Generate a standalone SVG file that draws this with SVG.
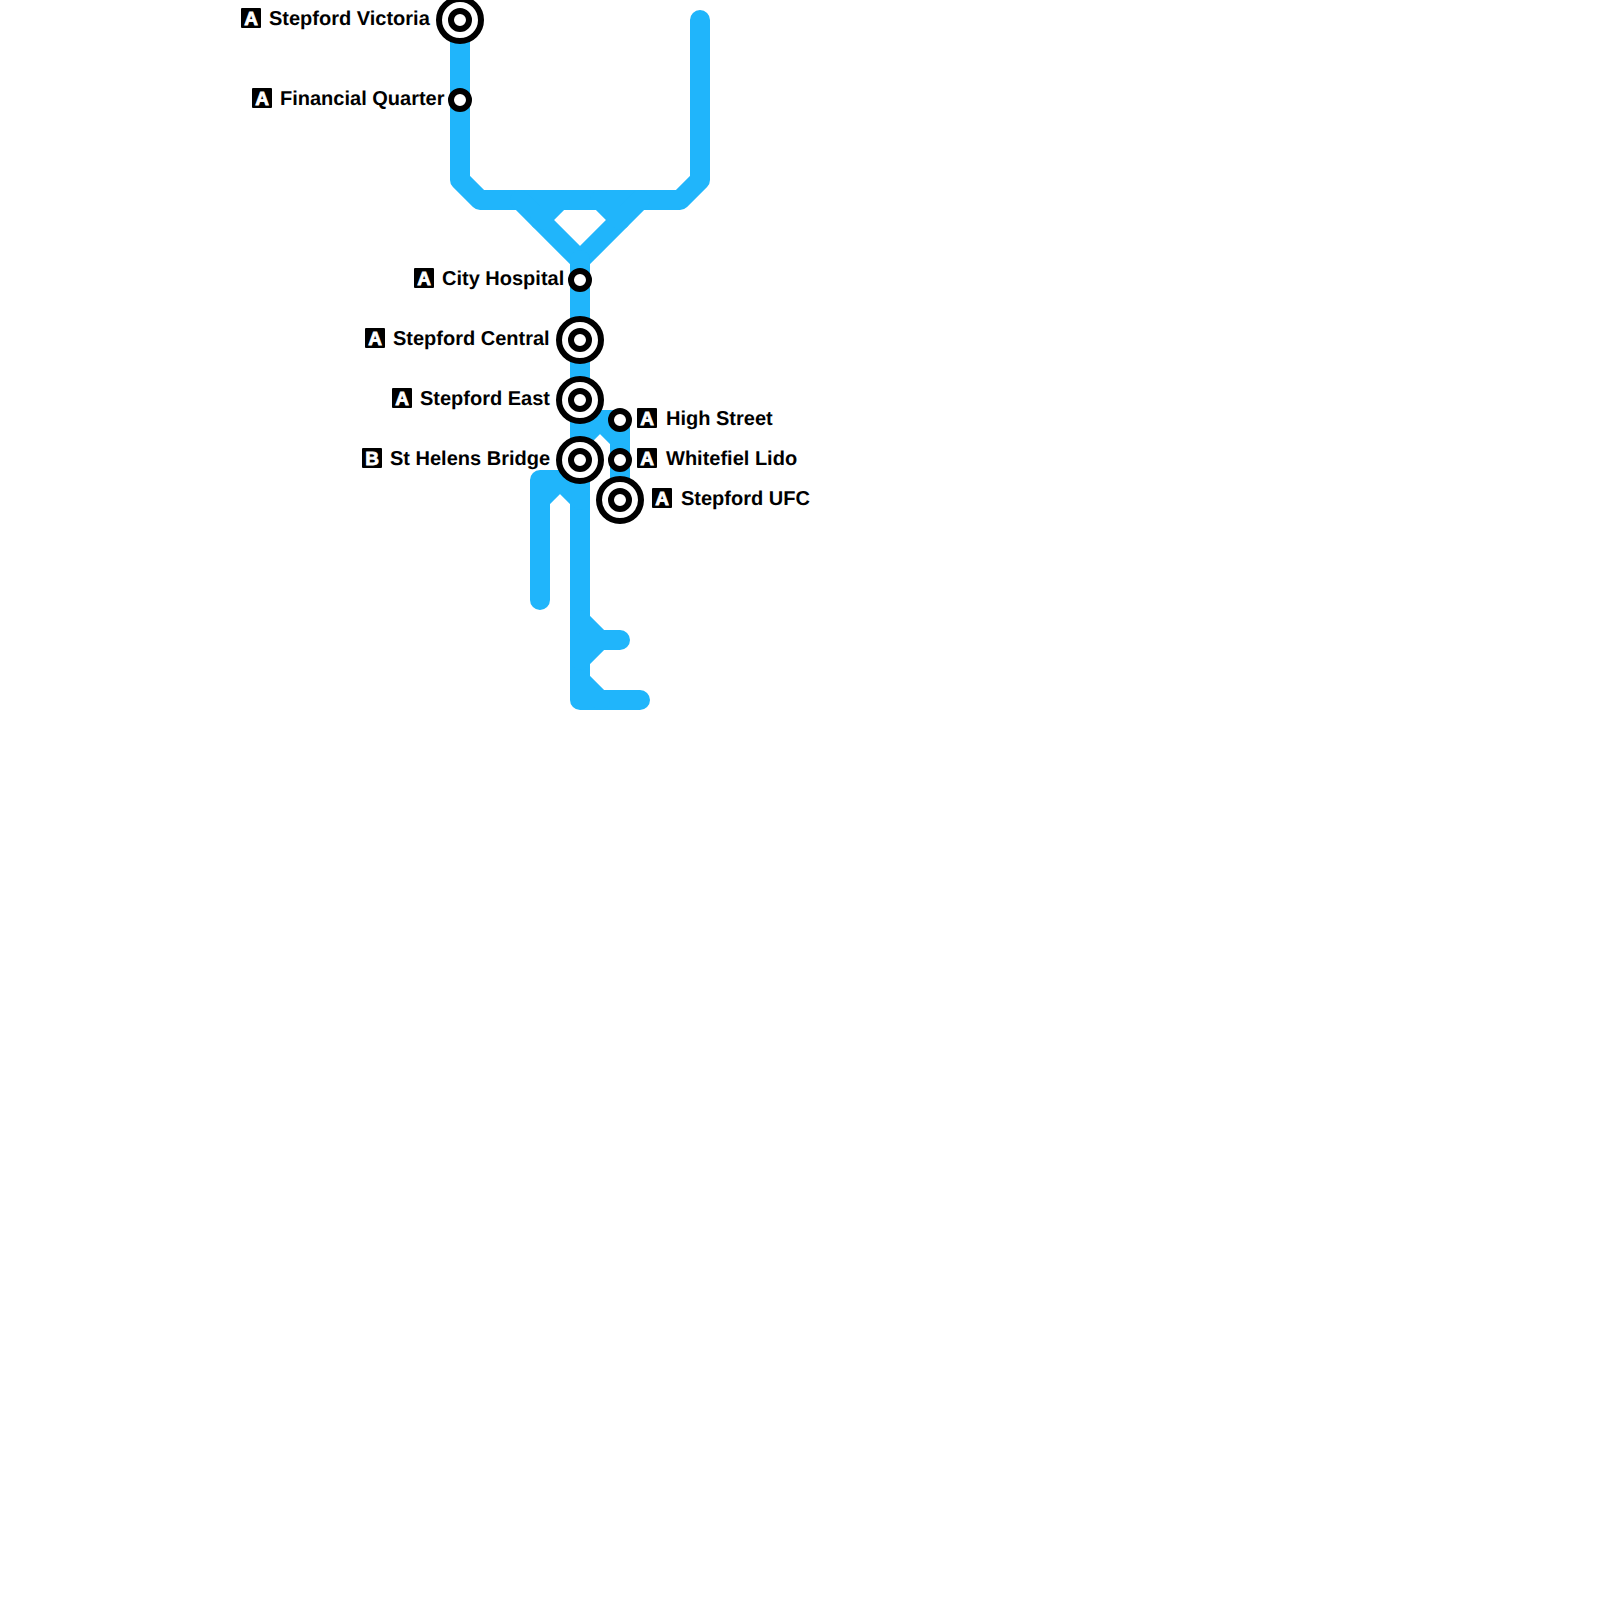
<svg xmlns="http://www.w3.org/2000/svg" width="1600" height="1600" viewBox="0 0 1600 1600">
<style>
text{text-rendering:geometricPrecision}
.line{fill:none;stroke:#20b5fb;stroke-width:20;stroke-linecap:round;stroke-linejoin:round}
.o{fill:#fff;stroke:#000;stroke-width:6}
.i{fill:#fff;stroke:#000;stroke-width:6}
.l{font-family:"Liberation Sans",Arial,sans-serif;font-weight:700;font-size:20px;fill:#000}
.b{fill:#000}
.bt{font-family:"Liberation Sans",Arial,sans-serif;font-weight:700;font-size:19px;fill:#fff;text-anchor:middle;stroke:#fff;stroke-width:.8}
</style>
<rect width="1600" height="1600" fill="#fff"/>
<g id="connectors">
<path class="line" d="M460 20V180L480 200H680L700 180V20"/>
<path class="line" d="M520 200L580 260L640 200"/>
<path class="line" d="M560 200L540 220M600 200L620 220"/>
<path class="line" d="M580 260V700H640"/>
<path class="line" d="M580 620L600 640H620M600 640L580 660M580 680L600 700"/>
<path class="line" d="M580 440L600 420H620V500M600 420L620 440M580 420H600"/>
<path class="line" d="M540 600V480H580M560 480L540 500M560 480L580 500"/>
</g>
<g id="stepford-victoria"><circle class="o" cx="460" cy="20" r="21"/><circle class="i" cx="460" cy="20" r="9"/><rect class="b" x="241" y="8" width="20" height="20" rx="1"/><text class="bt" x="251" y="24.5">A</text><text class="l" x="269" y="25">Stepford Victoria</text></g>
<g id="financial-quarter"><circle class="i" cx="460" cy="100" r="9"/><rect class="b" x="252" y="88" width="20" height="20" rx="1"/><text class="bt" x="262" y="104.5">A</text><text class="l" x="280" y="105">Financial Quarter</text></g>
<g id="city-hospital"><circle class="i" cx="580" cy="280" r="9"/><rect class="b" x="414" y="268" width="20" height="20" rx="1"/><text class="bt" x="424" y="284.5">A</text><text class="l" x="442" y="285">City Hospital</text></g>
<g id="stepford-central"><circle class="o" cx="580" cy="340" r="21"/><circle class="i" cx="580" cy="340" r="9"/><rect class="b" x="365" y="328" width="20" height="20" rx="1"/><text class="bt" x="375" y="344.5">A</text><text class="l" x="393" y="345">Stepford Central</text></g>
<g id="stepford-east"><circle class="o" cx="580" cy="400" r="21"/><circle class="i" cx="580" cy="400" r="9"/><rect class="b" x="392" y="388" width="20" height="20" rx="1"/><text class="bt" x="402" y="404.5">A</text><text class="l" x="420" y="405">Stepford East</text></g>
<g id="st-helens-bridge"><circle class="o" cx="580" cy="460" r="21"/><circle class="i" cx="580" cy="460" r="9"/><rect class="b" x="362" y="448" width="20" height="20" rx="1"/><text class="bt" x="372" y="464.5">B</text><text class="l" x="390" y="465">St Helens Bridge</text></g>
<g id="high-street"><circle class="i" cx="620" cy="420" r="9"/><rect class="b" x="637" y="408" width="20" height="20" rx="1"/><text class="bt" x="647" y="424.5">A</text><text class="l" x="666" y="425">High Street</text></g>
<g id="whitefiel-lido"><circle class="i" cx="620" cy="460" r="9"/><rect class="b" x="637" y="448" width="20" height="20" rx="1"/><text class="bt" x="647" y="464.5">A</text><text class="l" x="666" y="465">Whitefiel Lido</text></g>
<g id="stepford-ufc"><circle class="o" cx="620" cy="500" r="21"/><circle class="i" cx="620" cy="500" r="9"/><rect class="b" x="652" y="488" width="20" height="20" rx="1"/><text class="bt" x="662" y="504.5">A</text><text class="l" x="681" y="505">Stepford UFC</text></g>
</svg>
